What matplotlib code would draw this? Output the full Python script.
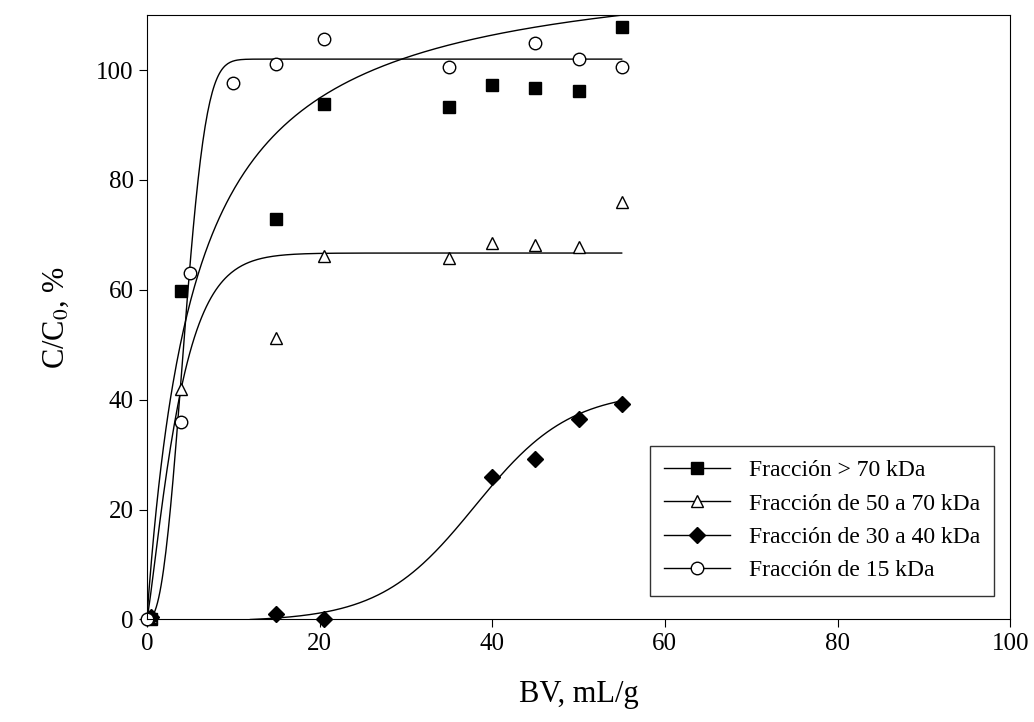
import numpy as np
import matplotlib
matplotlib.use('Agg')
from matplotlib import pyplot as plt
from matplotlib.lines import Line2D

plt.rcParams['font.family'] = ['Liberation Serif', 'DejaVu Serif']
plt.rcParams['mathtext.fontset'] = 'stix'

# data
sq_x = [0.5, 4, 15, 20.5, 35, 40, 45, 50, 55]
sq_y = [0, 59.7, 72.9, 93.9, 93.2, 97.3, 96.8, 96.2, 107.8]
tri_x = [0.5, 4, 15, 20.5, 35, 40, 45, 50, 55]
tri_y = [0.5, 42, 51.3, 66.2, 65.8, 68.6, 68.2, 67.8, 75.9]
dia_x = [0.5, 15, 20.5, 40, 45, 50, 55]
dia_y = [0.5, 1, 0, 26, 29.2, 36.5, 39.3]
cir_x = [0, 4, 5, 10, 15, 20.5, 35, 45, 50, 55]
cir_y = [0, 36, 63, 97.7, 101.1, 105.7, 100.6, 105, 102, 100.6]

labels = ['Fracción > 70 kDa', 'Fracción de 50 a 70 kDa',
          'Fracción de 30 a 40 kDa', 'Fracción de 15 kDa']

# fitted curves
x = np.linspace(0, 55, 400)
fit_sq = 121 * x / (5.5 + x)
fit_tri = 66.7 * (1 - np.exp(-(x / 4) ** 1.2))
fit_cir = 102 * (1 - np.exp(-(x / 5) ** 2.5))
xd = np.linspace(12, 55, 300)
fit_dia = 42 / (1 + np.exp(-(xd - 38) / 5.5))
fit_dia = fit_dia - fit_dia[0]

fig, ax = plt.subplots(figsize=(10.34, 7.22), dpi=100)
fig.subplots_adjust(left=0.142, right=0.977, top=0.979, bottom=0.142)

for yy, xx in [(fit_sq, x), (fit_tri, x), (fit_cir, x), (fit_dia, xd)]:
    ax.plot(xx, yy, 'k-', lw=1)

ms = 9
ax.plot(sq_x, sq_y, 's', color='k', ms=ms, ls='none', clip_on=False)
ax.plot(tri_x, tri_y, '^', mfc='white', mec='k', ms=ms, ls='none', clip_on=False)
ax.plot(dia_x, dia_y, 'D', color='k', ms=8, ls='none', clip_on=False)
ax.plot(cir_x, cir_y, 'o', mfc='white', mec='k', ms=ms, ls='none', clip_on=False)

handles = [
    Line2D([], [], color='k', lw=1, marker='s', ms=ms),
    Line2D([], [], color='k', lw=1, marker='^', mfc='white', ms=ms),
    Line2D([], [], color='k', lw=1, marker='D', ms=8),
    Line2D([], [], color='k', lw=1, marker='o', mfc='white', ms=ms),
]
leg = ax.legend(handles, labels, loc='lower right', fontsize=17, frameon=True,
                fancybox=False, edgecolor='k', handlelength=2.8,
                bbox_to_anchor=(0.995, 0.02), borderpad=0.6, labelspacing=0.5)
leg.get_frame().set_linewidth(1)

ax.set_xlim(0, 100)
ax.set_ylim(0, 110)
ax.set_xticks([0, 20, 40, 60, 80, 100])
ax.set_yticks([0, 20, 40, 60, 80, 100])
ax.tick_params(labelsize=18, direction='out', length=6)
ax.set_xlabel('BV, mL/g', fontsize=22, labelpad=18)
ax.set_ylabel('C/C$_0$, %', fontsize=22, labelpad=18)

fig.savefig('out.png')
